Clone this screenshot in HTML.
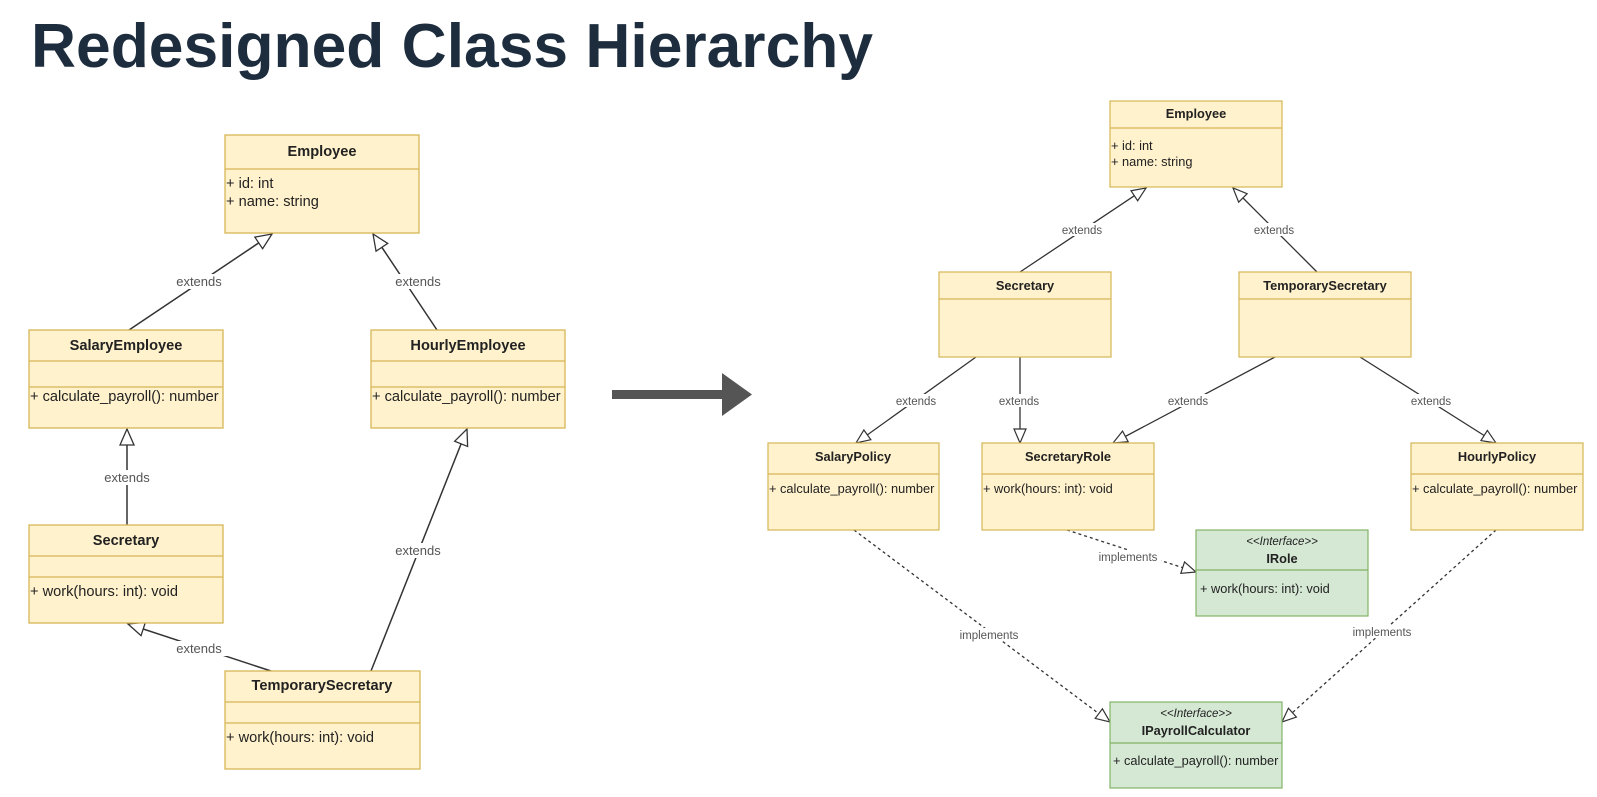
<!DOCTYPE html>
<html><head><meta charset="utf-8"><style>
html,body{margin:0;padding:0;background:#fff;}
svg{display:block;}
text{font-family:"Liberation Sans",Arial,sans-serif;fill:#222;}
.t{font-weight:bold;}
.l{fill:#555;}
</style></head><body>
<svg width="1597" height="797" viewBox="0 0 1597 797" xmlns="http://www.w3.org/2000/svg">
<defs>
<marker id="a" markerUnits="userSpaceOnUse" markerWidth="20" markerHeight="20" refX="17" refY="8" orient="auto">
<path d="M1,1 L17,8 L1,15 Z" fill="#fff" stroke="#333" stroke-width="1.3"/></marker>
<marker id="b" markerUnits="userSpaceOnUse" markerWidth="18" markerHeight="18" refX="15" refY="7" orient="auto">
<path d="M1,1 L15,7 L1,13 Z" fill="#fff" stroke="#333" stroke-width="1.2"/></marker>
</defs>
<text x="31" y="67" font-size="62" font-weight="bold" style="fill:#1d2d3e" textLength="842" lengthAdjust="spacingAndGlyphs">Redesigned Class Hierarchy</text>

<g stroke="#333" stroke-width="1.5" fill="none">
<line x1="129" y1="330" x2="272" y2="234" marker-end="url(#a)"/>
<line x1="437" y1="330" x2="373" y2="234" marker-end="url(#a)"/>
<line x1="127" y1="525" x2="127" y2="429" marker-end="url(#a)"/>
<line x1="371" y1="671" x2="467" y2="429" marker-end="url(#a)"/>
<line x1="271" y1="671" x2="128" y2="624" marker-end="url(#a)"/>
</g>
<g font-size="13" text-anchor="middle">
<rect x="169" y="274" width="60" height="15" fill="#fff"/><text class="l" x="199" y="286">extends</text>
<rect x="388" y="274" width="60" height="15" fill="#fff"/><text class="l" x="418" y="286">extends</text>
<rect x="97" y="470" width="60" height="15" fill="#fff"/><text class="l" x="127" y="482">extends</text>
<rect x="388" y="543" width="60" height="15" fill="#fff"/><text class="l" x="418" y="555">extends</text>
<rect x="169" y="641" width="60" height="15" fill="#fff"/><text class="l" x="199" y="653">extends</text>
</g>

<g stroke="#d6b656" stroke-width="1.3" fill="#fff2cc">
<rect x="225" y="135" width="194" height="98"/><line x1="225" y1="169" x2="419" y2="169"/>
<rect x="29" y="330" width="194" height="98"/><line x1="29" y1="361" x2="223" y2="361"/><line x1="29" y1="387" x2="223" y2="387"/>
<rect x="371" y="330" width="194" height="98"/><line x1="371" y1="361" x2="565" y2="361"/><line x1="371" y1="387" x2="565" y2="387"/>
<rect x="29" y="525" width="194" height="98"/><line x1="29" y1="556" x2="223" y2="556"/><line x1="29" y1="577" x2="223" y2="577"/>
<rect x="225" y="671" width="195" height="98"/><line x1="225" y1="702" x2="420" y2="702"/><line x1="225" y1="723" x2="420" y2="723"/>
</g>
<g font-size="14.6">
<text class="t" x="322" y="156" text-anchor="middle">Employee</text>
<text x="226" y="188">+ id: int</text>
<text x="226" y="206">+ name: string</text>
<text class="t" x="126" y="350" text-anchor="middle">SalaryEmployee</text>
<text x="30" y="401">+ calculate_payroll(): number</text>
<text class="t" x="468" y="350" text-anchor="middle">HourlyEmployee</text>
<text x="372" y="401">+ calculate_payroll(): number</text>
<text class="t" x="126" y="545" text-anchor="middle">Secretary</text>
<text x="30" y="596">+ work(hours: int): void</text>
<text class="t" x="322" y="690" text-anchor="middle">TemporarySecretary</text>
<text x="226" y="742">+ work(hours: int): void</text>
</g>

<rect x="612" y="390" width="112" height="9" fill="#555"/>
<path d="M722,373 L752,394.5 L722,416 Z" fill="#555"/>

<g transform="translate(-6,0)">
<g stroke="#333" stroke-width="1.3" fill="none">
<line x1="1026" y1="272" x2="1152" y2="188" marker-end="url(#b)"/>
<line x1="1323" y1="272" x2="1239" y2="188" marker-end="url(#b)"/>
<line x1="982" y1="357" x2="862" y2="443" marker-end="url(#b)"/>
<line x1="1026" y1="357" x2="1026" y2="443" marker-end="url(#b)"/>
<line x1="1281" y1="357" x2="1119" y2="443" marker-end="url(#b)"/>
<line x1="1366" y1="357" x2="1502" y2="443" marker-end="url(#b)"/>
<g stroke-dasharray="3,3">
<line x1="860" y1="530" x2="1116" y2="722" marker-end="url(#b)"/>
<line x1="1073" y1="530" x2="1202" y2="572" marker-end="url(#b)"/>
<line x1="1502" y1="530" x2="1288" y2="722" marker-end="url(#b)"/>
</g>
</g>
<g font-size="11.5" text-anchor="middle">
<rect x="1064" y="223" width="48" height="13" fill="#fff"/><text class="l" x="1088" y="234">extends</text>
<rect x="1256" y="223" width="48" height="13" fill="#fff"/><text class="l" x="1280" y="234">extends</text>
<rect x="898" y="394" width="48" height="13" fill="#fff"/><text class="l" x="922" y="405">extends</text>
<rect x="1001" y="394" width="48" height="13" fill="#fff"/><text class="l" x="1025" y="405">extends</text>
<rect x="1170" y="394" width="48" height="13" fill="#fff"/><text class="l" x="1194" y="405">extends</text>
<rect x="1413" y="394" width="48" height="13" fill="#fff"/><text class="l" x="1437" y="405">extends</text>
<rect x="962" y="628" width="66" height="13" fill="#fff"/><text class="l" x="995" y="639">implements</text>
<rect x="1101" y="550" width="66" height="13" fill="#fff"/><text class="l" x="1134" y="561">implements</text>
<rect x="1355" y="625" width="66" height="13" fill="#fff"/><text class="l" x="1388" y="636">implements</text>
</g>
<g stroke="#d6b656" stroke-width="1.2" fill="#fff2cc">
<rect x="1116" y="101" width="172" height="86"/><line x1="1116" y1="128" x2="1288" y2="128"/>
<rect x="945" y="272" width="172" height="85"/><line x1="945" y1="299" x2="1117" y2="299"/>
<rect x="1245" y="272" width="172" height="85"/><line x1="1245" y1="299" x2="1417" y2="299"/>
<rect x="774" y="443" width="171" height="87"/><line x1="774" y1="474" x2="945" y2="474"/>
<rect x="988" y="443" width="172" height="87"/><line x1="988" y1="474" x2="1160" y2="474"/>
<rect x="1417" y="443" width="172" height="87"/><line x1="1417" y1="474" x2="1589" y2="474"/>
</g>
<g stroke="#82b366" stroke-width="1.2" fill="#d5e8d4">
<rect x="1202" y="530" width="172" height="86"/><line x1="1202" y1="570" x2="1374" y2="570"/>
<rect x="1116" y="702" width="172" height="86"/><line x1="1116" y1="743" x2="1288" y2="743"/>
</g>
<g font-size="12.8">
<text class="t" x="1202" y="118" text-anchor="middle">Employee</text>
<text x="1117" y="150">+ id: int</text>
<text x="1117" y="166">+ name: string</text>
<text class="t" x="1031" y="290" text-anchor="middle">Secretary</text>
<text class="t" x="1331" y="290" text-anchor="middle">TemporarySecretary</text>
<text class="t" x="859" y="461" text-anchor="middle">SalaryPolicy</text>
<text x="775" y="493">+ calculate_payroll(): number</text>
<text class="t" x="1074" y="461" text-anchor="middle">SecretaryRole</text>
<text x="989" y="493">+ work(hours: int): void</text>
<text class="t" x="1503" y="461" text-anchor="middle">HourlyPolicy</text>
<text x="1418" y="493">+ calculate_payroll(): number</text>
<text x="1288" y="545" text-anchor="middle" font-style="italic" font-size="11.5">&lt;&lt;Interface&gt;&gt;</text>
<text class="t" x="1288" y="563" text-anchor="middle">IRole</text>
<text x="1206" y="593">+ work(hours: int): void</text>
<text x="1202" y="717" text-anchor="middle" font-style="italic" font-size="11.5">&lt;&lt;Interface&gt;&gt;</text>
<text class="t" x="1202" y="735" text-anchor="middle">IPayrollCalculator</text>
<text x="1119" y="765">+ calculate_payroll(): number</text>
</g>
</g>
</svg>
</body></html>
